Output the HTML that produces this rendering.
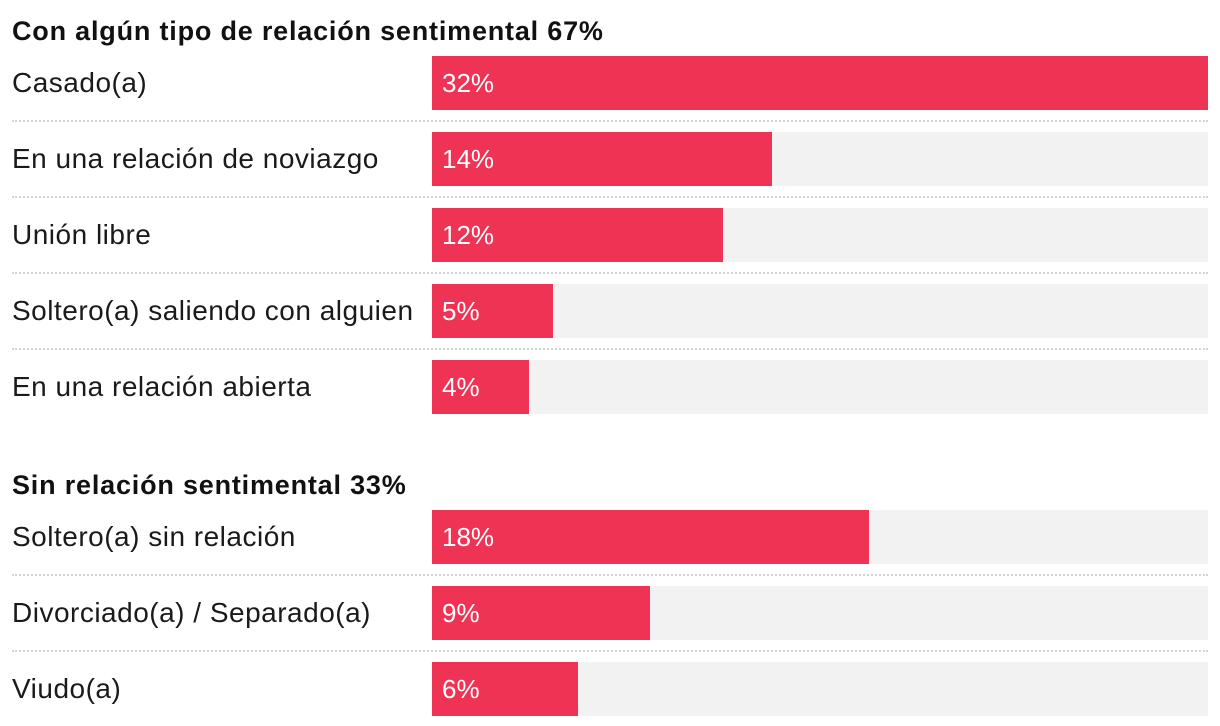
<!DOCTYPE html>
<html><head><meta charset="utf-8"><style>
body{margin:0;background:#fff;width:1220px;height:726px;overflow:hidden;font-family:"Liberation Sans",sans-serif;}
#c{position:relative;width:1220px;height:726px;}
.t{position:absolute;left:12px;font-weight:bold;font-size:27px;color:#111;letter-spacing:0.8px;line-height:30px}
.l{position:absolute;left:12px;font-size:28px;color:#1a1a1a;line-height:54px;letter-spacing:0.5px}
.tr{position:absolute;left:432px;width:776px;height:54px;background:#f2f2f2}
.b{position:absolute;left:0;top:0;height:54px;background:#ee3355;color:#fff;font-size:26px;line-height:54px;padding-left:10px;box-sizing:border-box}
.d{position:absolute;left:12px;width:1196px;border-top:2px dotted #d4d4d4}
</style></head><body>
<div id="c"></div>
<script>
const groupTitles=["Con algún tipo de relación sentimental 67%","Sin relación sentimental 33%"];
const categories=[["Casado(a)","En una relación de noviazgo","Unión libre","Soltero(a) saliendo con alguien","En una relación abierta"],["Soltero(a) sin relación","Divorciado(a) / Separado(a)","Viudo(a)"]];
const values=[[32,14,12,5,4],[18,9,6]];
const maxVal=32;
const c=document.getElementById('c');
const x=v=>v/maxVal*776;
const titleTops=[16,470];
const barTops=[56,510];
groupTitles.forEach((g,gi)=>{
  const t=document.createElement('div');t.className='t';t.style.top=titleTops[gi]+'px';t.textContent=g;
  
  
  c.appendChild(t);
  categories[gi].forEach((cat,i)=>{
    const top=barTops[gi]+i*76;
    const l=document.createElement('div');l.className='l';l.style.top=top+'px';l.textContent=cat;
    
    
    c.appendChild(l);
    const tr=document.createElement('div');tr.className='tr';tr.style.top=top+'px';
    
    
    const b=document.createElement('div');b.className='b';b.style.width=x(values[gi][i])+'px';b.textContent=values[gi][i]+'%';
    
    
    tr.appendChild(b);c.appendChild(tr);
    if(i<categories[gi].length-1){
      const d=document.createElement('div');d.className='d';d.style.top=(top+64)+'px';
      
      
      c.appendChild(d);
    }
  });
});
</script>
</body></html>
